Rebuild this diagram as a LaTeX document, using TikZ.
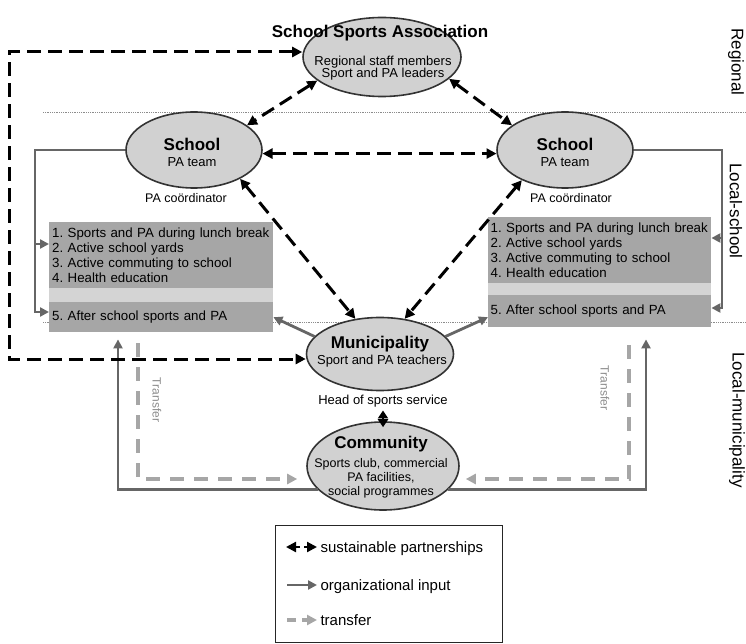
\documentclass[tikz,border=0pt]{standalone}
\usepackage{fontspec}
\setmainfont{Liberation Sans}
\usetikzlibrary{shapes.geometric,positioning,arrows.meta}

\begin{document}
\frenchspacing
\begin{tikzpicture}[x=1pt,y=-1pt,
  actor/.style={ellipse,draw=black!80,line width=1.6pt,fill=black!18,inner sep=0pt},
  hdr/.style={font=\fontsize{17}{18}\selectfont\bfseries},
  txt/.style={font=\fontsize{13}{12.5}\selectfont,align=center},
  note/.style={font=\fontsize{12.5}{13}\selectfont},
  tasks/.style={fill=black!35,minimum width=224pt,minimum height=66pt,inner sep=0pt,
    text width=218pt,align=left,font=\fontsize{13.3}{14.7}\selectfont,anchor=north west},
  side/.style={rotate=-90,font=\fontsize{17}{18}\selectfont},
  key/.style={anchor=west,font=\fontsize{15}{16}\selectfont},
  partner/.style={black,line width=3pt,dash pattern=on 14pt off 7pt,
    {Triangle[length=10pt,width=10pt]}-{Triangle[length=10pt,width=10pt]}},
  input/.style={black!60,line width=2.8pt,-{Triangle[length=9pt,width=9pt]}},
  transfer/.style={black!35,line width=3.2pt,dash pattern=on 14pt off 10pt,
    -{Triangle[length=10pt,width=10pt]}},
  levelline/.style={black!45,densely dotted,line width=0.8pt}]
  \useasboundingbox (0,0) rectangle (746,644);

  % levels
  \draw[levelline] (43,112) -- (746,112);
  \draw[levelline] (43,322) -- (746,322);

  % school activities
  \node[tasks] (boxL) at (49,222) {1. Sports and PA during lunch break\\2. Active school yards\\3. Active commuting to school\\4. Health education};
  \fill[black!17] (49,288) rectangle (273,302);
  \node[tasks,minimum height=30pt] (boxL5) at (49,302) {5. After school sports and PA};
  \node[tasks,minimum width=223pt] (boxR) at (488,217) {1. Sports and PA during lunch break\\2. Active school yards\\3. Active commuting to school\\4. Health education};
  \fill[black!17] (488,283) rectangle (711,295);
  \node[tasks,minimum width=223pt,minimum height=32pt] (boxR5) at (488,295) {5. After school sports and PA};

  % actors
  \node[actor,minimum width=158pt,minimum height=79pt] (ssa) at (382,57) {};
  \node[actor,minimum width=136pt,minimum height=76pt] (school1) at (194,150) {};
  \node[actor,minimum width=136pt,minimum height=76pt] (school2) at (565,150) {};
  \node[actor,minimum width=147pt,minimum height=73pt] (muni) at (380,354) {};
  \node[actor,minimum width=152pt,minimum height=88pt] (comm) at (383,466) {};

  \node[hdr] (ssa-name) at (380,33.6) {School Sports Association};
  \node[txt] (ssa-staff) at (383,68) {Regional staff members\\Sport and PA leaders};
  \node[hdr] (school1-name) at (192,144.6) {School};
  \node[txt] (school1-team) at (192,162) {PA team};
  \node[note,below=1pt of school1,xshift=-8pt] (school1-coord) {PA coördinator};
  \node[hdr] (school2-name) at (565,144.6) {School};
  \node[txt] (school2-team) at (565,162) {PA team};
  \node[note,below=1pt of school2,xshift=6pt] (school2-coord) {PA coördinator};
  \node[hdr] (muni-name) at (380,344) {Municipality};
  \node[txt] (muni-staff) at (382,361.5) {Sport and PA teachers};
  \node[txt,below=0pt of muni,xshift=3pt] (muni-head) {Head of sports service};
  \node[hdr] (comm-name) at (381,444.5) {Community};
  \node[txt,font=\fontsize{12.5}{14}\selectfont] (comm-offer) at (381,478.5) {Sports club, commercial\\PA facilities,\\social programmes};

  \node[side] (lvl-reg) at (736,62) {Regional};
  \node[side] (lvl-school) at (736,211) {Local-school};
  \node[side] (lvl-muni) at (737,420) {Local-municipality};

  % organizational input
  \coordinate (lrail) at (35,312);
  \coordinate (lfork) at (35,244);
  \draw[input] (school1.west) -- (school1.west -| lrail) -- (lrail) -- (lrail -| boxL5.west);
  \draw[input] (lfork) -- (lfork -| boxL.west);
  \coordinate (rrail) at (722,308);
  \coordinate (rfork) at (722,238);
  \draw[input] (school2.east) -- (school2.east -| rrail) -- (rrail) -- (rrail -| boxR5.east);
  \draw[input] (rfork) -- (rfork -| boxR.east);
  \draw[input] (muni.165) -- (boxL5.east);
  \draw[input] (muni.15) -- ([yshift=-6pt]boxR5.west);
  \coordinate (lfeed) at (118,490);
  \coordinate (rfeed) at (646,490);
  \draw[input,shorten >=7pt] (comm.200) -| (lfeed |- boxL5.south);
  \draw[input,shorten >=12pt] (comm.-20) -| (rfeed |- boxR5.south);

  % transfer
  \coordinate (ltrans) at (138,479);
  \coordinate (rtrans) at (629,479);
  \draw[transfer,shorten <=11pt,shorten >=9pt] (boxL5.south -| ltrans) -- (ltrans) -- (ltrans -| comm.west);
  \draw[transfer,shorten <=18pt,shorten >=6pt] (boxR5.south -| rtrans) -- (rtrans) -- (rtrans -| comm.east);
  \node[rotate=-90,black!45,font=\fontsize{12}{12}\selectfont] (tr-left) at (157,400) {Transfer};
  \node[rotate=-90,black!45,font=\fontsize{12}{12}\selectfont] (tr-right) at (605,388) {Transfer};

  % sustainable partnerships
  \draw[partner] (ssa.200) -- (school1.25);
  \draw[partner] (ssa.-18) -- (school2.155);
  \draw[partner] (school1.-3) -- (school2.183);
  \draw[partner] (school1.-32) -- (muni.125);
  \draw[partner] (school2.215) -- (muni.55);
  \coordinate (cornerA) at (9,52);
  \coordinate (cornerB) at (9,359);
  \draw[partner] (cornerA -| ssa.west) -- (cornerA) -- (cornerB) -- (cornerB -| muni.west);
  \draw[black,line width=2.6pt,{Triangle[length=8pt,width=10pt]}-{Triangle[length=8pt,width=10pt]}] (muni-head.south) -- ([yshift=-6pt]comm.north);

  % legend
  \node[draw=black!85,line width=1.2pt,minimum width=227pt,minimum height=117pt,
    anchor=north west,inner sep=0pt] (legend) at (275,525) {};
  \node[key] (key-partner) at (317,549) {sustainable partnerships};
  \node[key] (key-input) at (317,587) {organizational input};
  \node[key] (key-transfer) at (317,620) {transfer};
  \coordinate (k1) at (286,547);
  \coordinate (k2) at (287,585);
  \coordinate (k3) at (287,620);
  \draw[partner,line width=2.2pt,dash pattern=on 5pt off 4pt] (k1) -- (k1 -| key-partner.west);
  \draw[input] (k2) -- (k2 -| key-input.west);
  \draw[transfer,dash pattern=on 9pt off 6pt] (k3) -- (k3 -| key-transfer.west);
\end{tikzpicture}
\end{document}
